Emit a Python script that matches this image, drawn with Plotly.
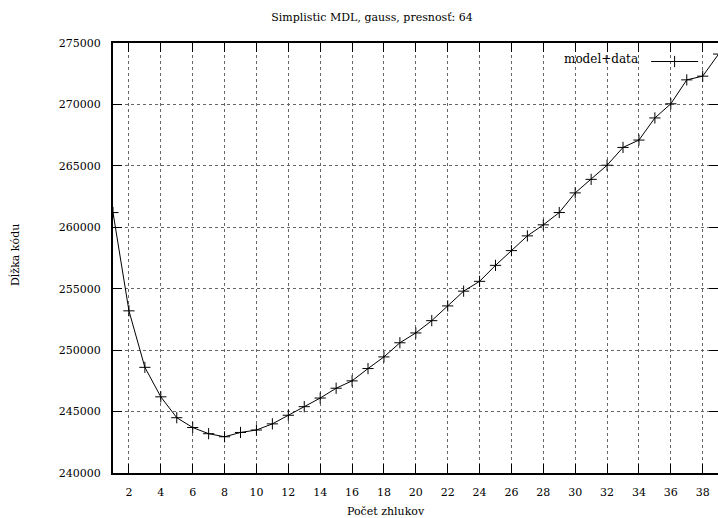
import plotly.graph_objects as go

# Code length (model + data) as a function of the number of clusters
clusters = list(range(1, 40))
code_length = [
    261200, 253200, 248600, 246200, 244500, 243700, 243200, 242950, 243300, 243500,
    244000, 244700, 245400, 246100, 246900, 247500, 248500, 249450, 250600, 251400,
    252400, 253600, 254800, 255600, 256900, 258100, 259300, 260200, 261200, 262800,
    263900, 265050, 266500, 267100, 268900, 270050, 272000, 272300, 274100,
]
x_ticks = list(range(2, 40, 2))
y_ticks = list(range(240000, 275001, 5000))
y_tick_text = [str(v) for v in y_ticks]

FONT = "DejaVu Serif"

fig = go.Figure()
fig.add_trace(go.Scatter(
    x=clusters, y=code_length, mode="lines+markers", name="",
    line=dict(color="black", width=1),
    marker=dict(symbol="cross-thin", size=8, line=dict(color="black", width=1)),
    showlegend=True,
))
# invisible trace carrying the mirrored y ticks on the right side
fig.add_trace(go.Scatter(x=[None], y=[None], yaxis="y2", showlegend=False))

fig.update_layout(
    width=718, height=518,
    margin=dict(l=113, r=0, t=43, b=45),
    paper_bgcolor="white", plot_bgcolor="white",
    font=dict(family=FONT, size=11, color="black"),
    title=dict(text="Simplistic MDL, gauss, presnosť: 64", x=372 / 718, xref="container",
               xanchor="center", y=1 - 17 / 518, yref="container", yanchor="middle",
               font=dict(family=FONT, size=11)),
    xaxis=dict(range=[1, 38.96], tickvals=x_ticks, ticks="inside", ticklen=9,
               tickwidth=1, tickcolor="black", showline=True, linecolor="black",
               linewidth=2, mirror="ticks", showgrid=True, gridcolor="#666",
               griddash="dot", gridwidth=1, zeroline=False, ticklabelstandoff=8,
               tickfont=dict(family=FONT, size=11)),
    yaxis=dict(range=[240000, 275000], tickvals=y_ticks, ticktext=y_tick_text,
               ticks="inside", ticklen=9,
               tickwidth=1, tickcolor="black", showline=True, linecolor="black",
               linewidth=2, showgrid=True, gridcolor="#666", griddash="dot",
               gridwidth=1, zeroline=False, ticklabelstandoff=8,
               tickfont=dict(family=FONT, size=11)),
    yaxis2=dict(range=[240000, 275000], tickvals=y_ticks, ticks="inside", ticklen=9,
                tickwidth=1, tickcolor="black", overlaying="y", side="right",
                showline=False, showgrid=False, showticklabels=False, zeroline=False),
    legend=dict(x=(709 - 113) / 605, xanchor="right", y=(473 - 47) / 430, yanchor="top",
                bgcolor="rgba(0,0,0,0)", borderwidth=0, itemwidth=47,
                title=dict(text="model+data", side="left",
                           font=dict(family=FONT, size=12)),
                font=dict(family=FONT, size=11)),
    shapes=[
        # blank the grid behind the key, under the data line
        dict(type="rect", xref="paper", yref="paper", layer="between",
             x0=(545 - 113) / 605, x1=(706 - 113) / 605,
             y0=(473 - 66) / 430, y1=(473 - 49) / 430,
             fillcolor="white", line=dict(width=0)),
    ],
    annotations=[
        dict(text="Počet zhlukov", x=(386 - 113) / 605, y=(473 - 511) / 430,
             xref="paper", yref="paper", showarrow=False, xanchor="center",
             yanchor="middle", font=dict(family=FONT, size=11)),
        dict(text="Dĺžka kódu", x=(15 - 113) / 605, y=(473 - 255) / 430,
             xref="paper", yref="paper", showarrow=False, textangle=-90,
             xanchor="center", yanchor="middle", font=dict(family=FONT, size=11)),
    ],
)

fig.write_html("out.html")
